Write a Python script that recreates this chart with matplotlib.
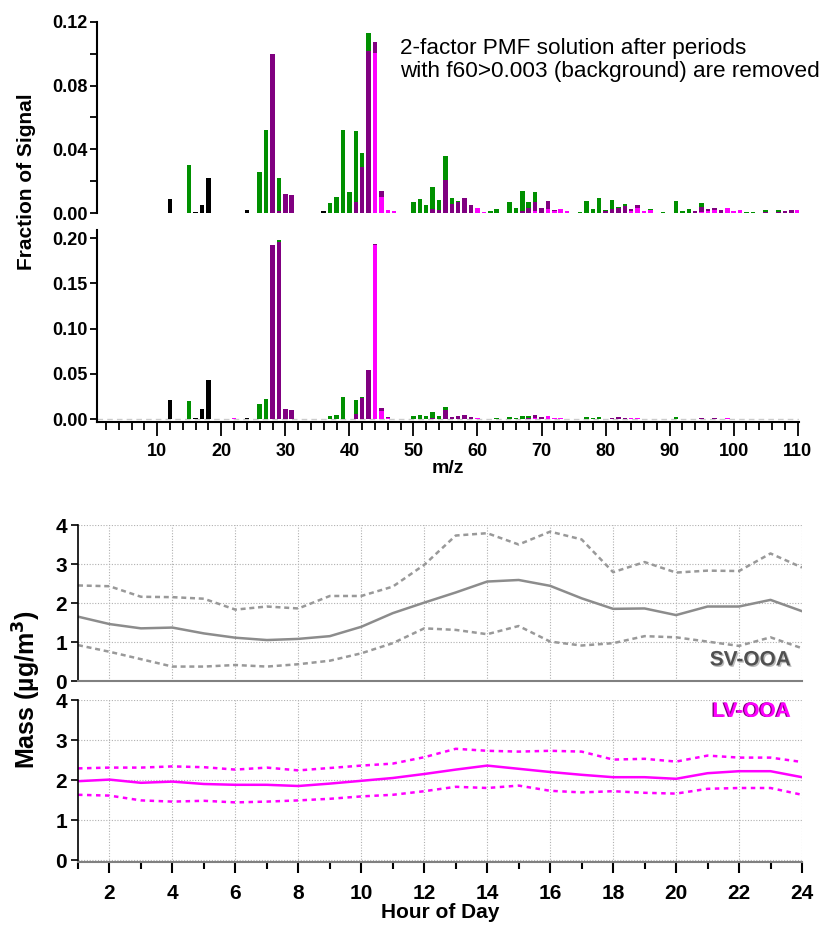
import numpy as np
import matplotlib
matplotlib.use("Agg")
import matplotlib.pyplot as plt
import matplotlib.patheffects as pe
from matplotlib.ticker import MultipleLocator

plt.rcParams["font.family"] = ["Liberation Sans", "DejaVu Sans"]

# ── Mass spectra: {m/z: fraction}, one dict per ion family ────────────
top_black = {12: 0.009, 16: 0.0006, 17: 0.005, 18: 0.022, 24: 0.0017, 36: 0.001}
top_magenta = {44: 0.1007, 45: 0.010, 46: 0.0021, 47: 0.0013, 60: 0.0034, 61: 0.0009,
               69: 0.0013, 71: 0.0023, 72: 0.0012, 73: 0.0027, 74: 0.001, 84: 0.0013,
               85: 0.0034, 86: 0.001, 87: 0.0018, 95: 0.0005, 96: 0.001, 97: 0.002,
               99: 0.0034, 100: 0.001, 101: 0.0021, 110: 0.0016}
top_purple = {28: 0.100, 29: 0.0013, 30: 0.012, 31: 0.0114, 41: 0.0068, 42: 0.029,
              43: 0.102, 44: 0.0065, 45: 0.004, 53: 0.0023, 54: 0.0017, 55: 0.021,
              56: 0.0055, 57: 0.0068, 58: 0.0095, 59: 0.0053, 67: 0.001, 68: 0.0034,
              69: 0.0054, 70: 0.0034, 71: 0.0053, 72: 0.0005, 80: 0.001, 81: 0.0025,
              82: 0.003, 83: 0.0042, 84: 0.0014, 85: 0.0016, 94: 0.001, 95: 0.0033,
              96: 0.0013, 97: 0.0014, 98: 0.002, 105: 0.0007, 107: 0.0007,
              108: 0.0013, 109: 0.002}
top_green = {15: 0.030, 26: 0.026, 27: 0.052, 29: 0.021, 37: 0.006, 38: 0.010,
             39: 0.052, 40: 0.013, 41: 0.045, 42: 0.009, 43: 0.011, 50: 0.007,
             51: 0.0087, 52: 0.0053, 53: 0.014, 54: 0.0063, 55: 0.015, 56: 0.0038,
             57: 0.001, 62: 0.0010, 63: 0.0026, 65: 0.0066, 66: 0.0033, 67: 0.0127,
             68: 0.0032, 69: 0.0062, 76: 0.0007, 77: 0.0076, 78: 0.0027, 79: 0.0093,
             80: 0.0011, 81: 0.0055, 82: 0.001, 83: 0.0015, 87: 0.0005, 89: 0.0005,
             91: 0.0076, 92: 0.001, 93: 0.0027, 95: 0.0022, 102: 0.0005, 103: 0.0007,
             105: 0.0014, 107: 0.0014}

bot_black = {12: 0.0213, 16: 0.001, 17: 0.0106, 18: 0.0427, 24: 0.001}
bot_magenta = {22: 0.001, 44: 0.193, 45: 0.0085, 46: 0.0012, 60: 0.001, 69: 0.001,
               71: 0.003, 72: 0.001, 73: 0.001, 84: 0.001, 85: 0.001, 99: 0.0008}
bot_purple = {28: 0.1927, 29: 0.196, 30: 0.0106, 31: 0.0096, 41: 0.0055, 42: 0.023,
              43: 0.0545, 44: 0.0008, 45: 0.0033, 46: 0.001, 53: 0.0014, 55: 0.0096,
              56: 0.0022, 57: 0.003, 58: 0.005, 59: 0.0022, 68: 0.0015, 69: 0.003,
              70: 0.0018, 81: 0.0015, 82: 0.002, 83: 0.001, 95: 0.0008, 97: 0.0008}
bot_green = {15: 0.020, 26: 0.017, 27: 0.0224, 29: 0.002, 37: 0.003, 38: 0.005,
             39: 0.0247, 41: 0.016, 42: 0.0015, 50: 0.003, 51: 0.004, 52: 0.003,
             53: 0.006, 54: 0.003, 55: 0.0033, 63: 0.0007, 65: 0.0018, 66: 0.0013,
             67: 0.003, 68: 0.0015, 77: 0.0018, 78: 0.0008, 79: 0.0018, 91: 0.002}

# ── Diurnal cycles (mean and bounds) ──────────────────────────────────
hours = np.arange(1, 25)
sv_mean = [1.65, 1.46, 1.35, 1.37, 1.22, 1.11, 1.05, 1.08, 1.15, 1.39, 1.74, 2.01,
           2.27, 2.55, 2.59, 2.44, 2.12, 1.85, 1.86, 1.69, 1.91, 1.91, 2.08, 1.79]
sv_upper = [2.45, 2.43, 2.16, 2.15, 2.11, 1.83, 1.91, 1.86, 2.18, 2.18, 2.42, 2.98,
            3.73, 3.79, 3.50, 3.83, 3.63, 2.79, 3.05, 2.78, 2.83, 2.82, 3.27, 2.91]
sv_lower = [0.92, 0.75, 0.56, 0.37, 0.37, 0.41, 0.37, 0.43, 0.52, 0.71, 0.97, 1.35,
            1.31, 1.20, 1.41, 1.01, 0.91, 0.97, 1.15, 1.12, 1.01, 0.90, 1.12, 0.84]
lv_mean = [1.97, 2.01, 1.93, 1.96, 1.90, 1.88, 1.88, 1.85, 1.91, 1.98, 2.05, 2.15,
           2.26, 2.36, 2.28, 2.20, 2.13, 2.07, 2.07, 2.03, 2.17, 2.22, 2.22, 2.07]
lv_upper = [2.29, 2.31, 2.31, 2.34, 2.32, 2.26, 2.31, 2.24, 2.30, 2.36, 2.41, 2.57,
            2.78, 2.73, 2.71, 2.73, 2.71, 2.51, 2.53, 2.46, 2.61, 2.56, 2.56, 2.45]
lv_lower = [1.63, 1.61, 1.49, 1.46, 1.48, 1.44, 1.46, 1.49, 1.53, 1.59, 1.63, 1.72,
            1.83, 1.80, 1.86, 1.73, 1.69, 1.72, 1.68, 1.66, 1.78, 1.80, 1.80, 1.63]

GREEN, PURPLE, MAGENTA, BLACK = "#009000", "#800080", "#ff00ff", "#000000"
W, H = 830, 930


def box(left, top, right, bottom):
    return [left / W, 1 - bottom / H, (right - left) / W, (bottom - top) / H]


def stacked(ax, families):
    mz = np.arange(1, 111)
    base = np.zeros(len(mz))
    for fam, col in families:
        vals = np.array([fam.get(m, 0.0) for m in mz])
        ax.bar(mz, vals, width=0.7, bottom=base, color=col, edgecolor="none")
        base += vals


fig = plt.figure(figsize=(W / 100, H / 100), dpi=100)

# ── Top spectra ───────────────────────────────────────────────────────
ax1 = fig.add_axes(box(97, 22, 799, 213))
ax2 = fig.add_axes(box(97, 230, 799, 422))
stacked(ax1, [(top_black, BLACK), (top_magenta, MAGENTA), (top_purple, PURPLE), (top_green, GREEN)])
stacked(ax2, [(bot_black, BLACK), (bot_magenta, MAGENTA), (bot_purple, PURPLE), (bot_green, GREEN)])
ax2.axhline(0, color="#cccccc", lw=1, ls=(0, (4, 3)), zorder=0)

ax1.set_ylim(0, 0.12)
ax2.set_ylim(-0.0033, 0.2092)
for ax in (ax1, ax2):
    ax.set_xlim(0.6, 110.2)
    for s in ("top", "right"):
        ax.spines[s].set_visible(False)
    ax.spines["left"].set_linewidth(1.5)
    ax.tick_params(axis="y", direction="out", length=5, width=1.3, labelsize=13, pad=2)
ax1.spines["bottom"].set_visible(False)
ax1.set_xticks([])
ax1.set_yticks([0, 0.04, 0.08, 0.12])
ax1.set_yticklabels(["0.00", "0.04", "0.08", "0.12"], fontweight="bold")
ax1.yaxis.set_minor_locator(MultipleLocator(0.02))
ax1.tick_params(axis="y", which="minor", direction="out", length=5, width=1.3)
ax2.set_yticks([0, 0.05, 0.10, 0.15, 0.20])
ax2.set_yticklabels(["0.00", "0.05", "0.10", "0.15", "0.20"], fontweight="bold")
ax2.spines["bottom"].set_linewidth(1.5)
ax2.set_xticks(np.arange(10, 111, 10))
ax2.set_xticklabels([str(v) for v in range(10, 111, 10)], fontweight="bold")
ax2.xaxis.set_minor_locator(MultipleLocator(2))
ax2.tick_params(axis="x", which="major", direction="out", length=10, width=1.3, labelsize=13, pad=5)
ax2.tick_params(axis="x", which="minor", direction="out", length=6, width=1.3)
ax2.set_xlabel("m/z", fontsize=14, fontweight="bold", labelpad=0)

fig.text(400 / W, 1 - 38 / H,
         "2-factor PMF solution after periods\nwith f60>0.003 (background) are removed",
         fontsize=16.2, va="top", ha="left", linespacing=1.1)
fig.text(27 / W, 1 - 182 / H, "Fraction of Signal", rotation=90, fontsize=15,
         fontweight="bold", ha="center", va="center")

# ── Diurnal panels ────────────────────────────────────────────────────
ax3 = fig.add_axes(box(78, 525, 802, 681))
ax4 = fig.add_axes(box(78, 700, 802, 862))

ax3.plot(hours, sv_mean, color="#8c8c8c", lw=1.8)
ax3.plot(hours, sv_upper, color="#999999", lw=1.8, ls=(0, (2, 1.5)))
ax3.plot(hours, sv_lower, color="#999999", lw=1.8, ls=(0, (2, 1.5)))
ax4.plot(hours, lv_mean, color=MAGENTA, lw=1.8)
ax4.plot(hours, lv_upper, color=MAGENTA, lw=1.8, ls=(0, (1.8, 1.8)))
ax4.plot(hours, lv_lower, color=MAGENTA, lw=1.8, ls=(0, (1.8, 1.8)))

ax3.set_ylim(0, 4)
ax4.set_ylim(-0.05, 4)
for ax in (ax3, ax4):
    ax.set_xlim(1, 24)
    ax.set_xticks(np.arange(2, 25, 2))
    ax.set_yticks([0, 1, 2, 3, 4])
    ax.set_yticklabels(["0", "1", "2", "3", "4"], fontweight="bold")
    ax.grid(True, color="#b0b0b0", ls=(0, (1, 1.5)), lw=0.8)
    ax.spines["top"].set_visible(False)
    ax.spines["right"].set_visible(False)
    ax.spines["left"].set_linewidth(1.2)
    ax.spines["bottom"].set_color("#808080")
    ax.spines["bottom"].set_linewidth(1.5)
    ax.tick_params(axis="y", direction="out", length=5, width=1.2, labelsize=15, pad=3)
ax3.tick_params(axis="x", length=0, labelbottom=False)
ax4.xaxis.set_minor_locator(MultipleLocator(1))
ax4.set_xticklabels([str(v) for v in range(2, 25, 2)], fontweight="bold")
ax4.tick_params(axis="x", which="major", direction="out", length=8, width=1.5, labelsize=15, pad=8)
ax4.tick_params(axis="x", which="minor", direction="out", length=5, width=1.5)
ax4.set_xlabel("Hour of Day", fontsize=15, fontweight="bold", labelpad=0)

ax3.text(0.985, 0.135, "SV-OOA", transform=ax3.transAxes, ha="right", va="center",
         fontsize=15, fontweight="bold", color="#505050",
         path_effects=[pe.withSimplePatchShadow(offset=(1, -1), shadow_rgbFace="#bbbbbb", alpha=1)])
ax4.text(0.985, 0.93, "LV-OOA", transform=ax4.transAxes, ha="right", va="center",
         fontsize=15, fontweight="bold", color=MAGENTA,
         path_effects=[pe.withSimplePatchShadow(offset=(-1, 0), shadow_rgbFace=PURPLE, alpha=1)])
fig.text(27 / W, 1 - 690 / H, "Mass (µg/m$^\\mathbf{3}$)", rotation=90, fontsize=18,
         fontweight="bold", ha="center", va="center")

fig.savefig("out.png", dpi=100)
